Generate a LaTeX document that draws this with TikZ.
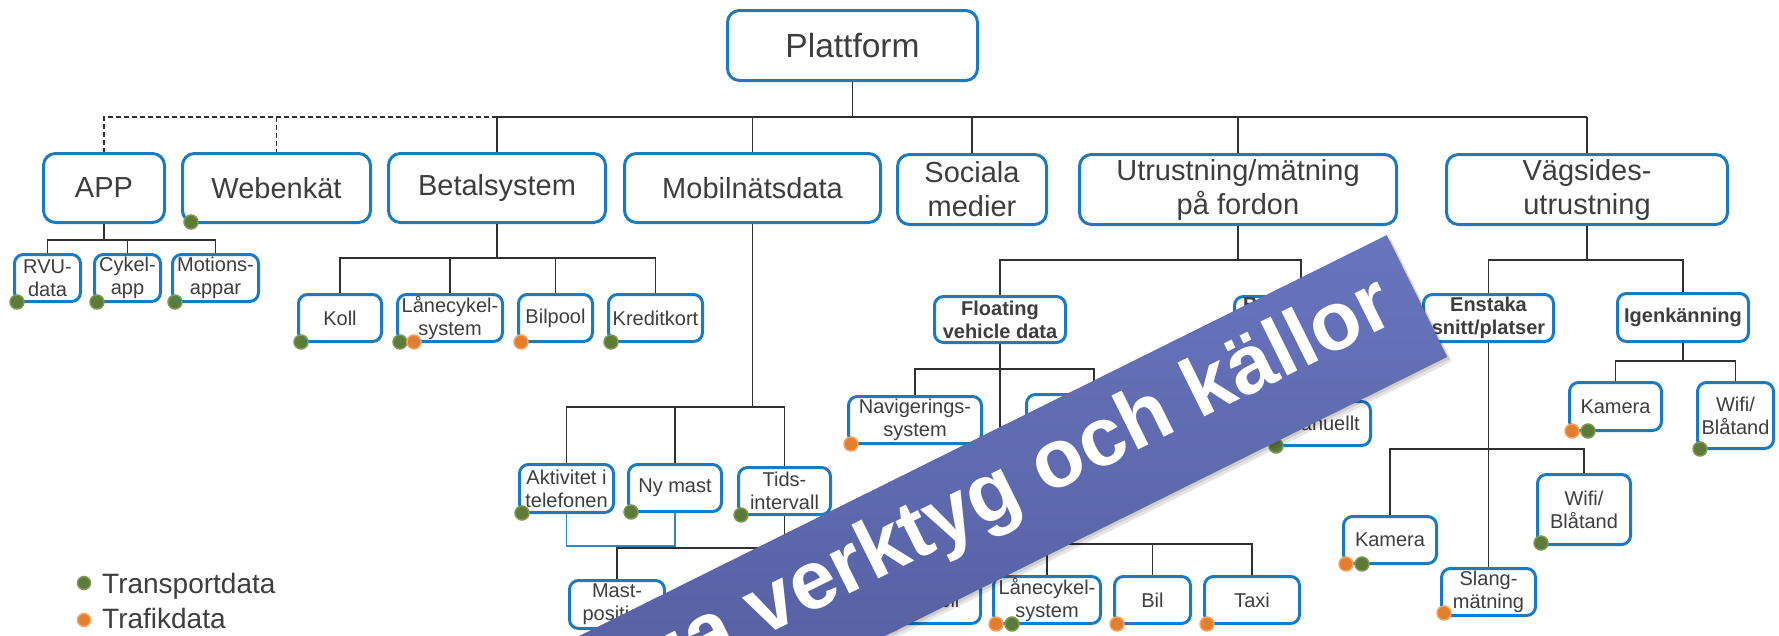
\documentclass[tikz,border=0pt]{standalone}
\usepackage{fontspec}
\setmainfont{Liberation Sans}
\usetikzlibrary{calc}
\definecolor{bblue}{HTML}{1B7BC0}
\definecolor{tgray}{HTML}{3E3E3E}
\definecolor{lgray}{HTML}{303030}
\definecolor{cblue}{HTML}{2E86C8}
\definecolor{gfill}{HTML}{5D7B36}
\definecolor{gdraw}{HTML}{7E9A55}
\definecolor{ofill}{HTML}{E27E2C}
\definecolor{odraw}{HTML}{F2A564}
\definecolor{banA}{HTML}{6874BD}
\definecolor{banB}{HTML}{4A5491}
\newcommand\mybox[7]{\node[box,#2,minimum width={#5pt-#3pt-3pt},minimum height={#6pt-#4pt-3pt}] (#1) at ({(#3+#5)/2},{(#4+#6)/2}) {#7};}
\begin{document}
\begin{tikzpicture}[x=1pt,y=-1pt,
 box/.style={draw=bblue,line width=3pt,rounded corners=9pt,fill=white,text=tgray,align=center,inner sep=0pt},
 big/.style={font=\fontsize{29}{34}\selectfont,rounded corners=12pt},
 sm/.style={font=\fontsize{20}{23}\selectfont},
 smb/.style={font=\bfseries\fontsize{20}{23}\selectfont},
 conn/.style={draw=lgray,line width=1.6pt},
 dconn/.style={draw=lgray,line width=1.3pt,dash pattern=on 5pt off 3pt},
 bconn/.style={draw=cblue,line width=1.6pt},
 dotg/.style={circle,fill=gfill,draw=gdraw,line width=1.5pt,minimum size=14pt,inner sep=0pt},
 doto/.style={circle,fill=ofill,draw=odraw,line width=1.5pt,minimum size=14pt,inner sep=0pt},
 legtext/.style={anchor=base west,inner sep=0pt,text=tgray,font=\fontsize{28}{30}\selectfont}]
\useasboundingbox (0,0) rectangle (1779,635);
\fill[white] (0,0) rectangle (1779,635);
\clip (0,0) rectangle (1779,635);

% ---- boxes
\mybox{plat}{big,font=\fontsize{33.5}{38}\selectfont}{726}{9}{979}{82}{Plattform}
\mybox{app}{big}{42}{152}{166}{224}{APP}
\mybox{web}{big}{181}{152}{372}{224}{Webenkät}
\mybox{bet}{big}{387}{152}{607}{224}{Betalsystem}
\mybox{mob}{big}{623}{152}{882}{224}{Mobilnätsdata}
\mybox{soc}{big}{896}{153}{1048}{226}{Sociala\\medier}
\mybox{utr}{big}{1078}{153}{1398}{226}{Utrustning/mätning\\på fordon}
\mybox{vag}{big}{1445}{153}{1729}{226}{Vägsides-\\utrustning}

\mybox{rvu}{sm}{13}{253}{82}{303}{RVU-\\data}
\mybox{cyk}{sm}{93}{253}{162}{303}{Cykel-\\app}
\mybox{mot}{sm}{171}{253}{260}{303}{Motions-\\appar}
\mybox{koll}{sm}{297}{293}{383}{343}{Koll}
\mybox{lan}{sm}{396}{293}{504}{343}{Lånecykel-\\system}
\mybox{bpo}{sm}{517}{293}{594}{343}{Bilpool}
\mybox{kre}{sm}{607}{293}{704}{343}{Kreditkort}
\mybox{akt}{sm}{518}{463}{615}{514}{Aktivitet i\\telefonen}
\mybox{ny}{sm}{627}{463}{723}{513}{Ny mast}
\mybox{tid}{sm}{737}{466}{832}{516}{Tids-\\intervall}
\mybox{mast}{sm}{568}{579}{666}{630}{Mast-\\position}
\mybox{fvd}{smb}{933}{295}{1067}{344}{Floating\\vehicle data}
\node[box,smb,minimum width=133pt,minimum height=46pt,text width=116pt,align=left] (bb) at (1301,319.5) {B\\\strut};
\mybox{nav}{sm}{847}{395}{983}{445}{Navigerings-\\system}
\mybox{hid}{sm}{1025}{393}{1163}{443}{}
\mybox{man}{sm}{1272}{400}{1372}{447}{Manuellt}
\mybox{mobl}{sm}{889}{575}{982}{625}{Mobil}
\mybox{lan2}{sm}{992}{575}{1102}{625}{Lånecykel-\\system}
\mybox{bil}{sm}{1113}{575}{1192}{625}{Bil}
\mybox{taxi}{sm}{1203}{575}{1301}{625}{Taxi}
\mybox{ens}{smb}{1422}{293}{1555}{343}{Enstaka\\snitt/platser}
\mybox{ige}{smb}{1616}{292}{1750}{343}{Igenkänning}
\mybox{kame}{sm}{1342}{515}{1438}{565}{Kamera}
\mybox{slang}{sm}{1440}{567}{1537}{617}{Slang-\\mätning}
\mybox{wife}{sm}{1536}{473}{1632}{546}{Wifi/\\Blåtand}
\mybox{kami}{sm}{1568}{381}{1663}{432}{Kamera}
\mybox{wifi}{sm}{1696}{381}{1775}{450}{Wifi/\\Blåtand}

% ---- connectors
\coordinate (y0) at (0,117);
\coordinate (y1) at (0,240);
\coordinate (y2) at (0,258);
\coordinate (y3) at (0,407);
\coordinate (y4) at (0,546);
\coordinate (y5) at (0,548);
\coordinate (y6) at (0,260);
\coordinate (y7) at (0,369);
\coordinate (y8) at (0,544);
\coordinate (y9) at (0,372);
\coordinate (y10) at (0,449);
\coordinate (y11) at (0,361);

\draw[conn] (plat.south) -- (plat.south |- y0);
\draw[conn] (bet.north |- y0) -- (vag.north |- y0);
\foreach \c in {bet,mob,soc,utr,vag} \draw[conn] (\c.north |- y0) -- (\c.north);
\draw[dconn] (bet.north |- y0) -| (app.north);
\draw[dconn] (web.north |- y0) -- (web.north);

\foreach \c in {rvu,cyk,mot} \draw[conn] (app.south) |- (\c.north |- y1) -- (\c.north);
\foreach \c in {koll,lan,bpo,kre} \draw[conn] (bet.south) |- (\c.north |- y2) -- (\c.north);
\foreach \c in {akt,ny,tid} \draw[conn] (mob.south) |- (\c.north |- y3) -- (\c.north);
\draw[bconn] (akt.south) |- (ny.south |- y4) -- (ny.south);
\draw[conn] (tid.south) |- (mast.north |- y5) -- (mast.north);
\foreach \c in {fvd,bb} \draw[conn] (utr.south) |- (\c.north |- y6) -- (\c.north);
\foreach \c in {nav,hid} \draw[conn] (fvd.south) |- (\c.north |- y7) -- (\c.north);
\draw[conn] (fvd.south) -- (fvd.south |- y8);
\foreach \c in {mobl,lan2,bil,taxi} \draw[conn] (fvd.south |- y8) -| (\c.north);
\draw[conn] (bb.south) |- (man.north |- y9) -- (man.north);
\foreach \c in {ens,ige} \draw[conn] (vag.south) |- (\c.north |- y6) -- (\c.north);
\foreach \c in {kame,slang,wife} \draw[conn] (ens.south) |- (\c.north |- y10) -- (\c.north);
\foreach \c in {kami,wifi} \draw[conn] (ige.south) |- (\c.north |- y11) -- (\c.north);

% ---- data dots
\foreach \c in {rvu,cyk,mot,koll,lan,kre,akt,ny,tid,man,wifi}
  \node[dotg] at ($(\c.south west)+(4,-1)$) {};
\foreach \c in {lan2,kame,kami}
  \node[dotg] at ($(\c.south west)+(20,-1)$) {};
\foreach \c in {bpo,nav,mobl,lan2,bil,taxi,kame,kami}
  \node[doto] at ($(\c.south west)+(4,-1)$) {};
\node[doto] at ($(lan.south west)+(18,-1)$) {};
\node[dotg] at ($(web.south west)+(10,-2)$) {};
\node[doto] at ($(slang.south west)+(4,-4)$) {};
\node[dotg] at ($(wife.south west)+(5,-3)$) {};

% ---- legend
\node[dotg,minimum size=13pt] (lg1) at (84,583) {};
\node[legtext] (lt1) at (102,593) {Transportdata};
\node[doto,minimum size=13pt] (lg2) at (84,620) {};
\node[legtext] (lt2) at (102,628) {Trafikdata};

% ---- banner
\begin{scope}[shift={(1417,296)},rotate=26.4]
  \fill[black,opacity=0.10] (-1400,-62) rectangle (2,74);
  \fill[black,opacity=0.10] (-1400,-64) rectangle (1,71);
  \shade[top color=banA,bottom color=banB] (-1400,-68) rectangle (0,68);
  \node[transform shape,anchor=east,inner sep=0pt,text=white,font=\bfseries\fontsize{83}{83}\selectfont] (bt) at (-28,-7) {Möjliga verktyg och källor};
\end{scope}
\end{tikzpicture}
\end{document}
